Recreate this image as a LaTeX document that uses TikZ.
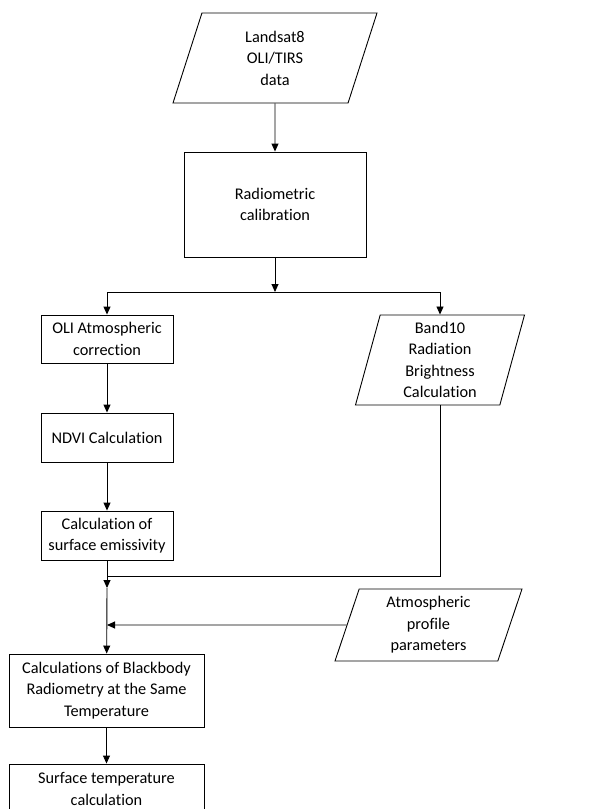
\documentclass[tikz,border=0pt]{standalone}
\usepackage{fontspec}
\setmainfont{Carlito}[Ligatures=NoCommon]
\usetikzlibrary{shapes.geometric,arrows.meta}

\begin{document}
\begin{tikzpicture}[x=1pt,y=-1pt,line width=0.9pt,
  every node/.style={font=\fontsize{16.3}{21.5}\selectfont, align=center, inner sep=0pt},
  procbox/.style={draw, rectangle},
  databox/.style={draw, trapezium, trapezium stretches body},
  flow/.style={-{Triangle[length=8pt,width=7pt]}}]
\useasboundingbox (0,0) rectangle (614,809);

\node[databox, trapezium left angle=62, trapezium right angle=118, minimum width=204pt, minimum height=90pt] (landsat) at (275,58) {Landsat8\\OLI/TIRS\\data};
\node[procbox, minimum width=182pt, minimum height=105pt] (radio) at (275,204.5) {Radiometric\\calibration};
\coordinate (split) at (275,292);
\coordinate (splitL) at (107,292);
\coordinate (splitR) at (440,292);

\node[procbox, minimum width=132pt, minimum height=48pt] (oli) at (107,339) {OLI Atmospheric\\correction};
\node[databox, trapezium left angle=72, trapezium right angle=108, minimum width=169pt, minimum height=90pt] (band) at (440,360) {Band10\\Radiation\\Brightness\\Calculation};
\node[procbox, minimum width=132pt, minimum height=49pt] (ndvi) at (107,437.5) {NDVI Calculation};
\node[procbox, minimum width=132pt, minimum height=49pt] (emis) at (107,535.5) {Calculation of\\surface emissivity};

\coordinate (join) at (107,576);
\coordinate (joinR) at (440,576);
\coordinate (mid) at (107,588);
\node[databox, trapezium left angle=67, trapezium right angle=113, minimum width=187pt, minimum height=72pt] (atm) at (428.5,625) {Atmospheric\\profile\\parameters};
\coordinate (atmin) at (107,625);

\node[procbox, minimum width=195pt, minimum height=73pt] (black) at (106.5,690.5) {Calculations of Blackbody\\Radiometry at the Same\\Temperature};
\node[procbox, minimum width=195pt, minimum height=50pt] (surf) at (106.5,789) {Surface temperature\\calculation};

\draw[flow] (landsat) -- (radio);
\draw[flow] (radio) -- (split);
\draw (splitL) -- (splitR);
\draw[flow] (splitL) -- (oli);
\draw[flow] (splitR) -- (band);
\draw[flow] (oli) -- (ndvi);
\draw[flow] (ndvi) -- (emis);
\draw (band) -- (joinR) -- (join);
\draw (emis) -- (join);
\draw[flow] (join) -- (mid);
\draw[flow] (mid) -- (black);
\draw[flow] (atm) -- (atmin);
\draw[flow] (black) -- (surf);
\end{tikzpicture}
\end{document}
